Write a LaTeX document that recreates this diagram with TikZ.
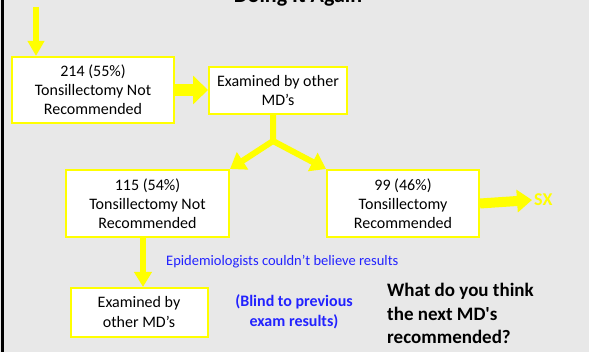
\documentclass[tikz,border=0pt]{standalone}
\usepackage{fontspec}
\setmainfont{Carlito}
\usetikzlibrary{arrows.meta}
\definecolor{slidegray}{RGB}{232,232,232}
\definecolor{hiyellow}{RGB}{255,255,0}
\definecolor{noteblue}{RGB}{34,34,255}
\tikzset{
	resultbox/.style={draw=hiyellow, line width=2pt, fill=white, align=center, inner sep=0pt, font=\fontsize{16}{19}\selectfont},
	flow/.style 2 args={draw=hiyellow, line width=#1, line join=miter, -{Triangle[width=#2, length=15pt]}}
}

\begin{document}
\begin{tikzpicture}[x=1pt, y=-1pt]
		%%%%% START %%%%%
		
		\useasboundingbox (0, 0) rectangle (589, 352);
		\fill[slidegray] (0, 0) rectangle (589, 352);
		\draw[line width=3pt] (2.5, 0) -- (2.5, 352);
		
		\node (title) [anchor=base, font=\bfseries\fontsize{22}{24}\selectfont] at (298, 3) {Doing It Again};
		
		\node (box1) [resultbox, minimum width=162pt, minimum height=66pt] at (93, 90) {214 (55\%)\\Tonsillectomy Not\\Recommended};
		\node (box2) [resultbox, minimum width=138pt, minimum height=47pt] at (278, 90.5) {Examined by other\\MD’s};
		\node (box3) [resultbox, minimum width=163pt, minimum height=67pt] at (147.5, 203.5) {115 (54\%)\\Tonsillectomy Not\\Recommended};
		\node (box4) [resultbox, minimum width=152pt, minimum height=67pt] at (403, 203.5) {99 (46\%)\\Tonsillectomy\\Recommended};
		\node (box5) [resultbox, minimum width=137pt, minimum height=49pt, font=\fontsize{16}{20}\selectfont] at (139, 312.5) {Examined by\\other MD’s};
		
		\node (sx) [anchor=west, inner sep=2pt, text=hiyellow, font=\bfseries\fontsize{18}{20}\selectfont] at (532, 200) {SX};
		\node (note) [anchor=west, inner sep=0pt, text=noteblue, font=\fontsize{14.5}{16}\selectfont] at (166, 262) {Epidemiologists couldn’t believe results};
		\node (blind) [align=center, text=noteblue, font=\bfseries\fontsize{16}{20}\selectfont] at (294, 312) {(Blind to previous\\exam results)};
		\node (ask) [anchor=north west, inner sep=0pt, align=left, font=\bfseries\fontsize{19}{23.5}\selectfont] at (387, 283) {What do you think\\the next MD\textquotesingle s\\recommended?};
		
		% arrows
		\coordinate (start) at (36, 7);
		\coordinate (split) at (273, 141);
		\draw[flow={6pt}{16pt}] (start) -- (start |- box1.north);
		\draw[flow={12pt}{28pt}] (box1.east) -- (box2.west |- box1.east);
		\draw[flow={6pt}{20pt}] (split |- box2.south) -- (split) -- (box3.north east);
		\draw[flow={6pt}{20pt}] (split) -- (box4.north west);
		\draw[flow={10pt}{22pt}] (box4.east) -- (sx.west);
		\draw[flow={6pt}{17pt}] ([xshift=4pt]box5.north |- box3.south) -- ([xshift=4pt]box5.north);
		
		%%%%% END %%%%%
\end{tikzpicture}
\end{document}
